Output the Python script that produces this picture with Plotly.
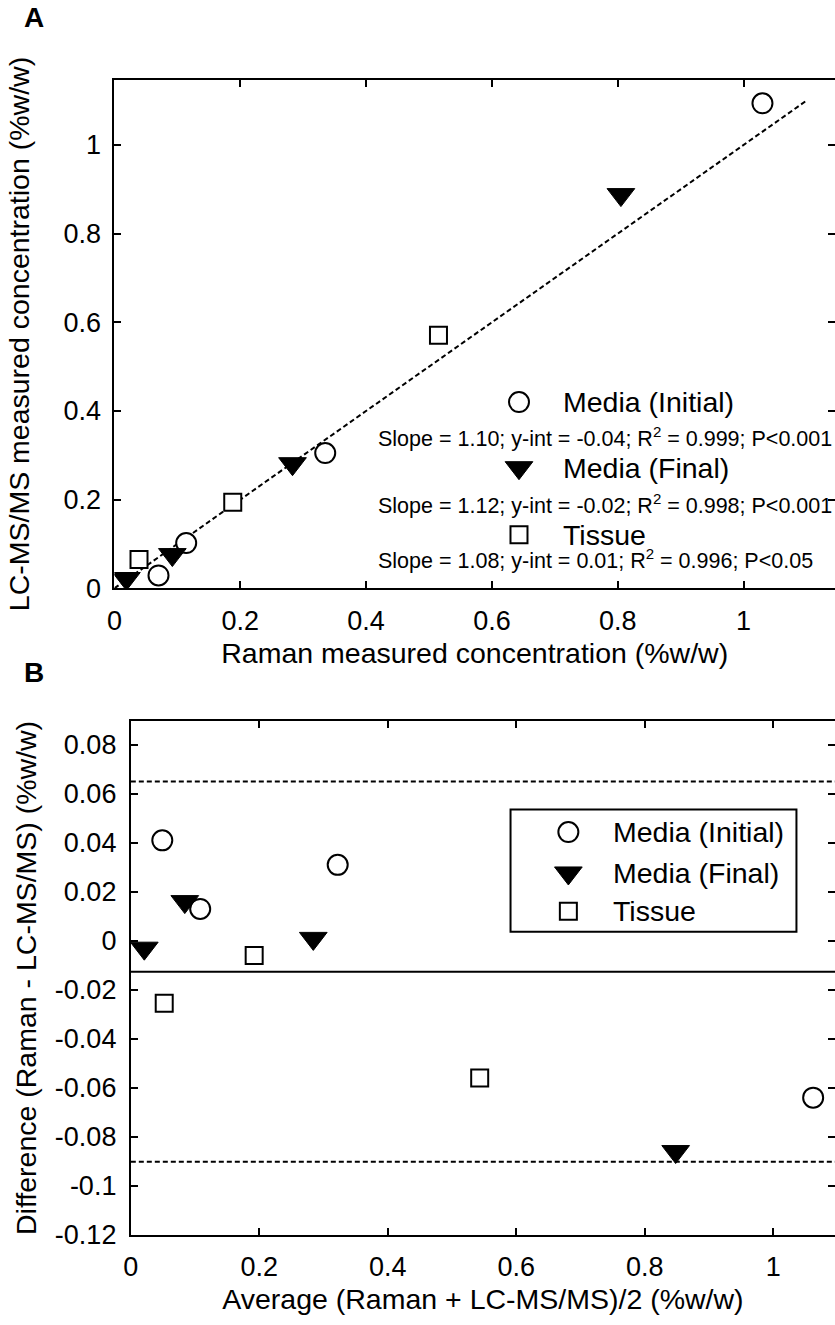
import plotly.graph_objects as go

# ---------------- Panel A: Raman vs LC-MS/MS (%w/w) ----------------
init_raman = [0.070, 0.114, 0.335, 1.030]
init_lcms = [0.029, 0.102, 0.305, 1.094]
final_raman = [0.019, 0.092, 0.283, 0.805]
final_lcms = [0.022, 0.076, 0.281, 0.888]
tissue_raman = [0.039, 0.188, 0.515]
tissue_lcms = [0.065, 0.194, 0.571]
fit_x = [0.0, 1.10]
fit_y = [0.0, 1.10]

a_ticks = [0, 0.2, 0.4, 0.6, 0.8, 1]
a_ticktext = ["0", "0.2", "0.4", "0.6", "0.8", "1"]

series_names = ["Media (Initial)", "Media (Final)", "Tissue"]
fit_stats = [
    "Slope = 1.10; y-int = -0.04; R<sup>2</sup> = 0.999; P<0.001",
    "Slope = 1.12; y-int = -0.02; R<sup>2</sup> = 0.998; P<0.001",
    "Slope = 1.08; y-int = 0.01; R<sup>2</sup> = 0.996; P<0.05",
]

# ---------------- Panel B: Bland-Altman ----------------
init_avg = [0.049, 0.108, 0.322, 1.062]
init_diff = [0.041, 0.013, 0.031, -0.064]
final_avg = [0.021, 0.084, 0.284, 0.848]
final_diff = [-0.003, 0.016, 0.001, -0.086]
tissue_avg = [0.052, 0.192, 0.543]
tissue_diff = [-0.0255, -0.006, -0.056]
mean_diff = -0.0126
upper_loa = 0.065
lower_loa = -0.0902

b_xticks = [0, 0.2, 0.4, 0.6, 0.8, 1]
b_xticktext = ["0", "0.2", "0.4", "0.6", "0.8", "1"]
b_yticks = [-0.12, -0.1, -0.08, -0.06, -0.04, -0.02, 0, 0.02, 0.04, 0.06, 0.08]
b_yticktext = ["-0.12", "-0.1", "-0.08", "-0.06", "-0.04", "-0.02", "0",
               "0.02", "0.04", "0.06", "0.08"]

FONT = "Liberation Sans, Arial, sans-serif"
BLACK = "#000000"
TICK_SIZE = 27
TITLE_SIZE = 28.5

circle = dict(symbol="circle", size=20, color="white", line=dict(color=BLACK, width=2))
tri = dict(symbol="triangle-down", size=24, color=BLACK, line=dict(color=BLACK, width=1))
square = dict(symbol="square", size=17, color="white", line=dict(color=BLACK, width=2))
marker_styles = [circle, tri, square]

fig = go.Figure()

# Panel A traces
fig.add_trace(go.Scatter(x=fit_x, y=fit_y, mode="lines", xaxis="x", yaxis="y",
                         line=dict(color=BLACK, width=2, dash="5px,3px"), showlegend=False))
for xs, ys, mk in [(init_raman, init_lcms, circle), (final_raman, final_lcms, tri),
                   (tissue_raman, tissue_lcms, square)]:
    fig.add_trace(go.Scatter(x=xs, y=ys, mode="markers", marker=mk, xaxis="x", yaxis="y",
                             showlegend=False))

# Panel A legend (symbols + labels with fit statistics)
leg_a_sym_x = 0.643
leg_a_text_x = 0.709
leg_a_stat_x = 0.415
leg_a_rows = [0.420, 0.272, 0.121]
leg_a_stat_rows = [0.342, 0.191, 0.065]
for i, mk in enumerate(marker_styles):
    fig.add_trace(go.Scatter(x=[leg_a_sym_x], y=[leg_a_rows[i]], mode="markers", marker=mk,
                             xaxis="x", yaxis="y", showlegend=False))
    fig.add_annotation(x=leg_a_text_x, y=leg_a_rows[i], xref="x", yref="y",
                       text=series_names[i], showarrow=False, xanchor="left",
                       font=dict(size=TITLE_SIZE, color=BLACK, family=FONT))
    fig.add_annotation(x=leg_a_stat_x, y=leg_a_stat_rows[i], xref="x", yref="y",
                       text=fit_stats[i], showarrow=False, xanchor="left",
                       font=dict(size=21.5, color=BLACK, family=FONT))

# Panel B traces
for xs, ys, mk in [(init_avg, init_diff, circle), (final_avg, final_diff, tri),
                   (tissue_avg, tissue_diff, square)]:
    fig.add_trace(go.Scatter(x=xs, y=ys, mode="markers", marker=mk, xaxis="x2", yaxis="y2",
                             showlegend=False))

# Mean difference and limits of agreement
fig.add_shape(type="line", xref="x2 domain", yref="y2", x0=0, x1=1, y0=mean_diff, y1=mean_diff,
              line=dict(color=BLACK, width=2))
for v in (upper_loa, lower_loa):
    fig.add_shape(type="line", xref="x2 domain", yref="y2", x0=0, x1=1, y0=v, y1=v,
                  line=dict(color=BLACK, width=2, dash="5px,3px"))

# Panel B legend box
leg_b_box = dict(x0=0.591, x1=1.036, y0=0.0037, y1=0.0536)
fig.add_shape(type="rect", xref="x2", yref="y2", **leg_b_box,
              line=dict(color=BLACK, width=2), fillcolor="white", layer="below")
leg_b_sym_x = 0.681
leg_b_text_x = 0.748
leg_b_rows = [0.0444, 0.0277, 0.0121]
for i, mk in enumerate(marker_styles):
    fig.add_trace(go.Scatter(x=[leg_b_sym_x], y=[leg_b_rows[i]], mode="markers", marker=mk,
                             xaxis="x2", yaxis="y2", showlegend=False))
    fig.add_annotation(x=leg_b_text_x, y=leg_b_rows[i], xref="x2", yref="y2",
                       text=series_names[i], showarrow=False, xanchor="left",
                       font=dict(size=TITLE_SIZE, color=BLACK, family=FONT))

# Empty traces that carry the right-hand tick axes
fig.add_trace(go.Scatter(x=[None], y=[None], xaxis="x", yaxis="y3", showlegend=False))
fig.add_trace(go.Scatter(x=[None], y=[None], xaxis="x2", yaxis="y4", showlegend=False))

W, H = 835, 1325
ax_common = dict(showgrid=False, zeroline=False, showline=True, linecolor=BLACK, linewidth=2,
                 ticks="inside", ticklen=7, tickwidth=2, tickcolor=BLACK,
                 tickfont=dict(size=TICK_SIZE, color=BLACK, family=FONT))
title_font = dict(size=TITLE_SIZE, color=BLACK, family=FONT)
a_x_dom = [107.5 / W, 1.0]
a_y_dom = [1 - 595 / H, 1 - 80.7 / H]
b_x_dom = [124 / W, 1.0]
b_y_dom = [1 - 1249 / H, 1 - 729.3 / H]
a_xrange = [0, 1.1453]
a_yrange = [0, 1.147]
b_xrange = [0, 1.096]
b_yrange = [-0.12, 0.0897]

fig.update_layout(
    width=W, height=H,
    margin=dict(l=0, r=0, t=0, b=0),
    paper_bgcolor="white", plot_bgcolor="white",
    showlegend=False,
    font=dict(family=FONT, color=BLACK),
    xaxis=dict(ax_common, domain=a_x_dom, range=a_xrange, anchor="y", mirror="ticks",
               tickvals=a_ticks, ticktext=a_ticktext, ticklabelstandoff=7,
               title=dict(text="Raman measured concentration (%w/w)", font=title_font,
                          standoff=8)),
    yaxis=dict(ax_common, domain=a_y_dom, range=a_yrange, anchor="x",
               tickvals=a_ticks, ticktext=a_ticktext, ticklabelstandoff=6,
               title=dict(text="LC-MS/MS measured concentration (%w/w)", font=title_font,
                          standoff=26)),
    yaxis3=dict(ax_common, domain=a_y_dom, range=a_yrange, anchor="x", overlaying="y",
                side="right", showline=False, showticklabels=False, tickvals=a_ticks),
    xaxis2=dict(ax_common, domain=b_x_dom, range=b_xrange, anchor="y2", mirror="ticks",
                tickvals=b_xticks, ticktext=b_xticktext, ticklabelstandoff=7,
                title=dict(text="Average (Raman + LC-MS/MS)/2 (%w/w)", font=title_font,
                           standoff=8)),
    yaxis2=dict(ax_common, domain=b_y_dom, range=b_yrange, anchor="x2",
                tickvals=b_yticks, ticktext=b_yticktext, ticklabelstandoff=7,
                title=dict(text="Difference (Raman - LC-MS/MS) (%w/w)", font=title_font,
                           standoff=10)),
    yaxis4=dict(ax_common, domain=b_y_dom, range=b_yrange, anchor="x2", overlaying="y2",
                side="right", showline=False, showticklabels=False, tickvals=b_yticks),
)

# Panel letters
fig.add_annotation(x=14 / W, y=1 - 18 / H, xref="paper", yref="paper", text="<b>A</b>",
                   showarrow=False, xanchor="left", yanchor="middle",
                   font=dict(size=28, color=BLACK, family=FONT))
fig.add_annotation(x=14 / W, y=1 - 680 / H, xref="paper", yref="paper", text="<b>B</b>",
                   showarrow=False, xanchor="left", yanchor="middle",
                   font=dict(size=28, color=BLACK, family=FONT))

fig.write_html("out.html")
